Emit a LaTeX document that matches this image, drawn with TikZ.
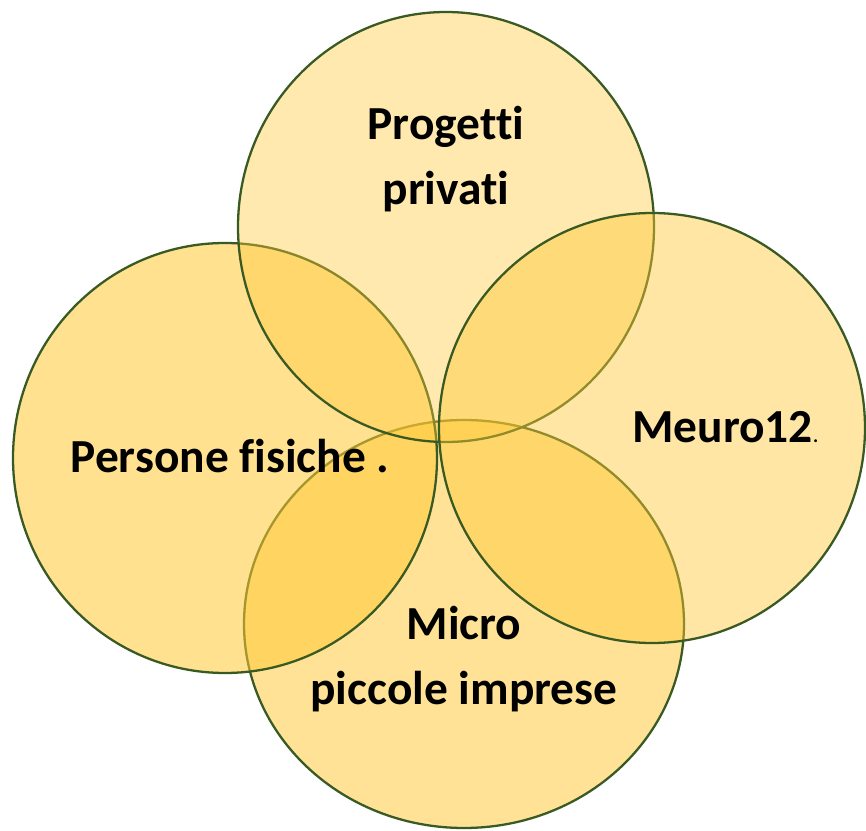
\documentclass[tikz,border=0pt]{standalone}
\usepackage{fontspec}
\setmainfont{Carlito}[Ligatures = NoCommon]
\usepackage{xcolor}
\usetikzlibrary{backgrounds}

\definecolor{rimgreen}{HTML}{3A5A24}
\definecolor{petal}{HTML}{FFC835}

\begin{document}
\begin{tikzpicture}[x = 0.02cm, y = -0.02cm,
		petalfill/.style = {fill = petal, fill opacity = #1, draw = rimgreen, draw opacity = 1, line width = 1.3pt},
		petaltext/.style = {font = \fontsize{27}{37}\selectfont\bfseries, align = center, inner sep = 0pt}]
		\useasboundingbox (0,0) rectangle (866,831);
		% bottom, left, top, right
		\draw[petalfill = 0.52] (464,624) ellipse (220 and 204);
		\draw[petalfill = 0.55] (225,458) ellipse (212 and 215);
		\draw[petalfill = 0.40] (446,227) ellipse (208 and 215);
		\draw[petalfill = 0.45] (652,428) ellipse (213 and 215);
		\node[petaltext] (progetti) at (446,159) {Progetti\\privati};
		\node[petaltext, anchor = base] (persone) at (230,472) {Persone fisiche .};
		\node[petaltext, anchor = base west] (meuro) at (632,442) {Meuro12{\fontsize{11}{11}\selectfont.}};
		\node[petaltext] (micro) at (464,659) {Micro\\piccole imprese};
	\end{tikzpicture}
\end{document}
